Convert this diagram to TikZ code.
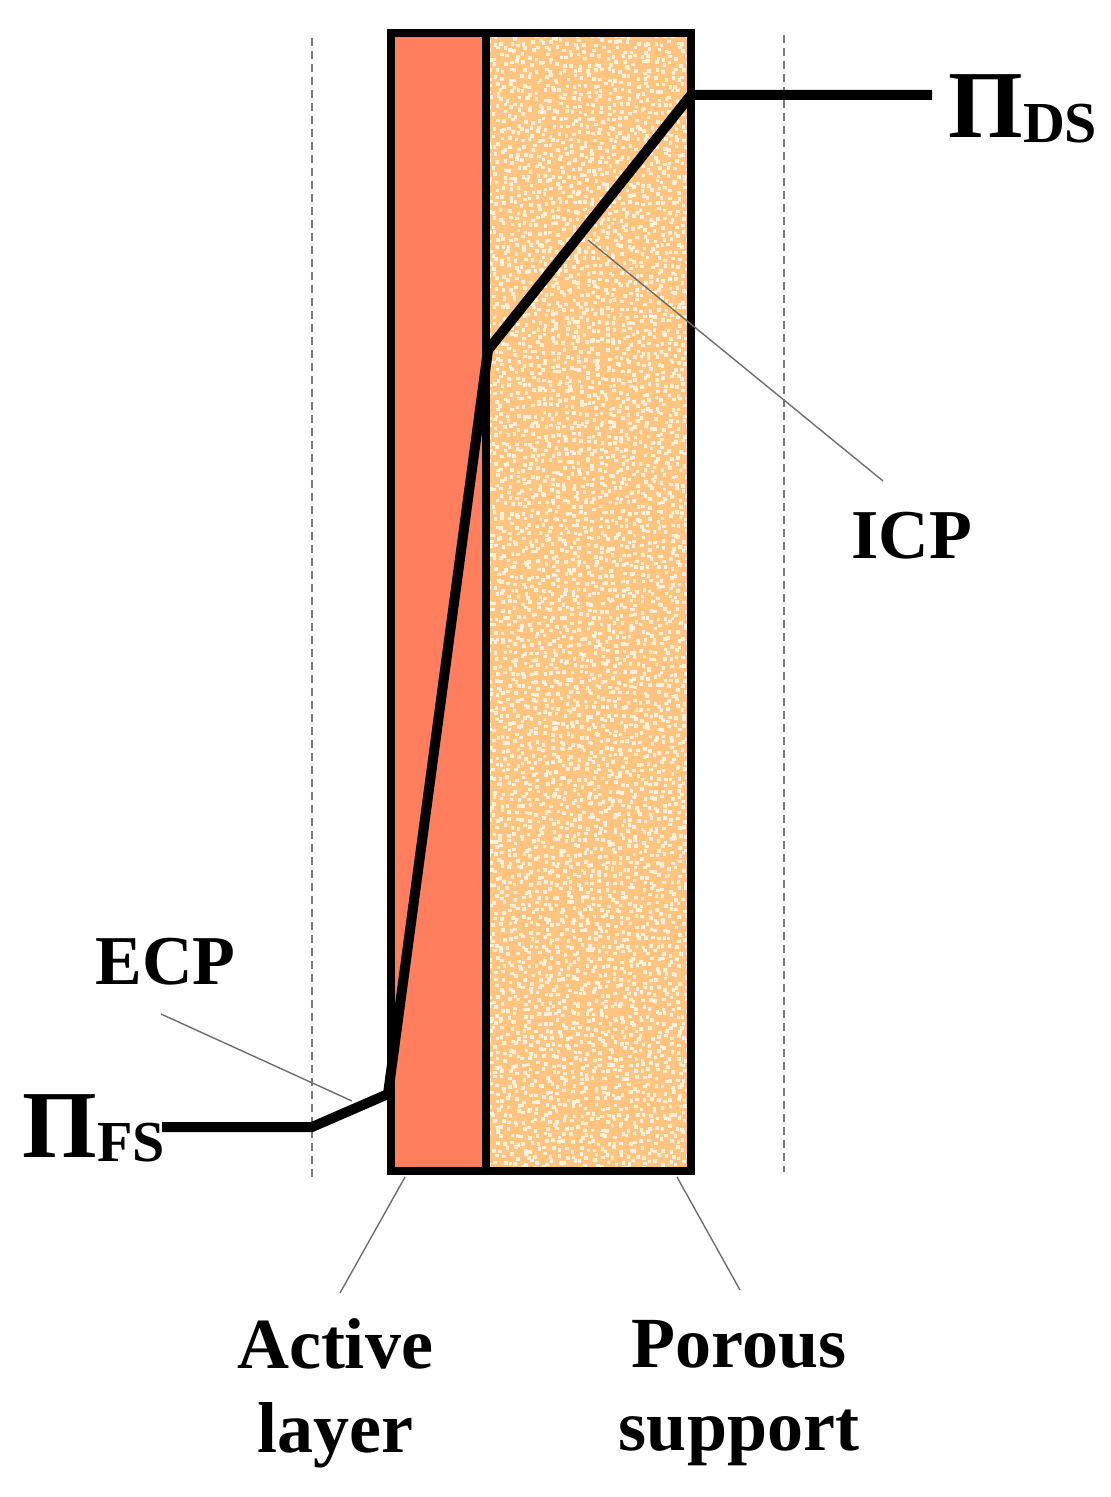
\documentclass[tikz,border=0pt]{standalone}
\usepackage{fontspec}
\setmainfont{Liberation Serif}
\definecolor{activered}{HTML}{FE7E5D}
\definecolor{porousorange}{HTML}{FFC47F}
\definecolor{dotcream}{HTML}{FFF1DC}
\definecolor{leadergray}{HTML}{6E6E6E}
\definecolor{boundgray}{HTML}{7A7A7A}
\begin{document}
\begin{tikzpicture}[x=0.5pt,y=-0.5pt,
  membrane/.style={line width=4pt},
  profile/.style={line width=5pt,line join=round},
  leader/.style={draw=leadergray,line width=0.7pt},
  boundary/.style={draw=boundgray,line width=0.6pt,dash pattern=on 4pt off 2.5pt},
  lbl/.style={font=\bfseries\fontsize{35}{35}\selectfont,inner sep=0pt},
  btm/.style={font=\bfseries\fontsize{36}{36}\selectfont,inner sep=0pt,anchor=base},
  pis/.style={inner sep=0pt,anchor=base west,font=\bfseries}]
\useasboundingbox (0,0) rectangle (1110,1497);

% corners of the membrane
\coordinate (tl) at (391,33);
\coordinate (tm) at (486,33);
\coordinate (tr) at (691,33);
\coordinate (bl) at (391,1171);
\coordinate (bm) at (486,1171);
\coordinate (br) at (691,1171);

% boundary layer limits
\coordinate (dl1) at (312,38);
\coordinate (dl2) at (312,1177);
\coordinate (dr1) at (784,35);
\coordinate (dr2) at (784,1172);
\draw[boundary] (dl1) -- (dl2);
\draw[boundary] (dr1) -- (dr2);

% fills
\fill[activered] (tl) rectangle (bm);
\fill[porousorange] (tm) rectangle (br);
\pgfmathsetseed{7}
\begin{scope}
\clip (tm) rectangle (br);
\foreach \i in {0,...,29}{
  \foreach \j in {0,...,163}{
    \pgfmathsetmacro\dx{489+\i*7+rand*3}
    \pgfmathsetmacro\dy{36+\j*7+rand*3}
    \fill[dotcream] (\dx-1.8,\dy-1.8) rectangle ++(3.6,3.6);
  }
}
\end{scope}

% membrane outlines
\draw[membrane] (tl) rectangle (br);
\draw[membrane] (tm) -- (bm);

% osmotic pressure profile
\coordinate (p0) at (162,1127);
\coordinate (p1) at (312,1127);
\coordinate (p2) at (388,1094);
\coordinate (p3) at (488,350);
\coordinate (p4) at (691,95);
\coordinate (p5) at (932,95);
\draw[profile] (p0) -- (p1) -- (p2) -- (p3) -- (p4) -- (p5);

% labels
\node[pis] (pids) at (948,138) {\fontsize{48}{48}\selectfont Π\raisebox{-2.5pt}{\fontsize{29}{29}\selectfont DS}};
\node[pis] (pifs) at (22,1157) {\fontsize{48}{48}\selectfont Π\raisebox{-2pt}{\fontsize{29}{29}\selectfont FS}};

\node[lbl,anchor=base west] (ecp) at (95,984) {ECP};
\node[lbl,anchor=base west] (icp) at (851,558) {ICP};

\node[btm] (act1) at (335,1368) {Active};
\node[btm] (act2) at (335,1452) {layer};
\node[btm] (por1) at (739,1367) {Porous};
\node[btm] (por2) at (739,1450) {support};

% leader lines
\coordinate (ecpA) at (161,1014);
\coordinate (ecpB) at (352,1101);
\coordinate (icpA) at (588,240);
\coordinate (icpB) at (883,481);
\coordinate (actA) at (405,1177);
\coordinate (actB) at (340,1293);
\coordinate (porA) at (677,1177);
\coordinate (porB) at (740,1290);
\draw[leader] (ecpA) -- (ecpB);
\draw[leader] (icpA) -- (icpB);
\draw[leader] (actA) -- (actB);
\draw[leader] (porA) -- (porB);
\end{tikzpicture}
\end{document}
